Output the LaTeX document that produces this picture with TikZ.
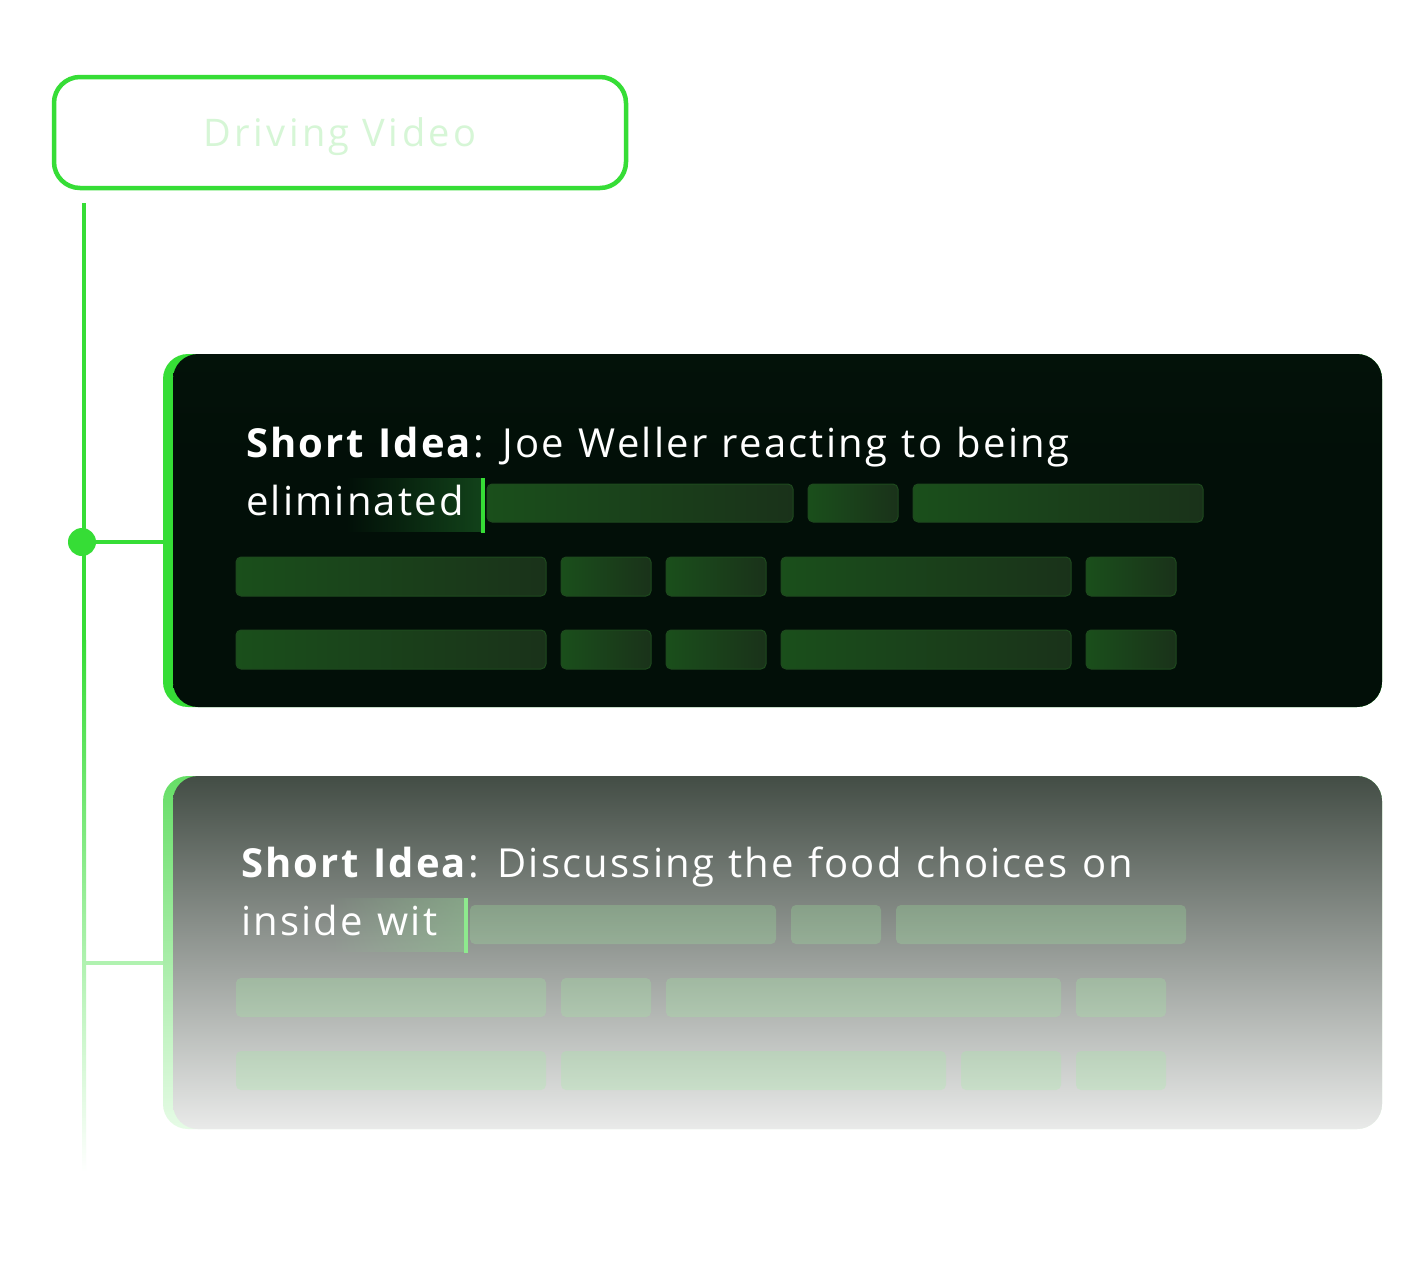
\documentclass[tikz,border=0pt]{standalone}
\usepackage{fontspec}
\setmainfont{Open Sans}
\newfontfamily\dvfont[LetterSpace=9]{Open Sans}
\newfontfamily\cardfont[LetterSpace=5.5, WordSpace=1.15]{Open Sans}
\usetikzlibrary{fadings}
\definecolor{lime}{HTML}{36DD36}
\definecolor{limefade}{HTML}{B0F2B0}
\definecolor{dvtext}{HTML}{D6F6D6}
\definecolor{cardAtop}{HTML}{05170B}
\definecolor{cardAmid}{HTML}{020F08}
\definecolor{cardAbot}{HTML}{1F2923}
\definecolor{cardBtop}{HTML}{434D45}
\definecolor{cardBbot}{HTML}{E9EAE9}
\definecolor{stripBtop}{HTML}{66DE66}
\definecolor{stripBbot}{HTML}{E6FBE6}
\definecolor{barAl}{HTML}{1A4F1B}
\definecolor{barAr}{HTML}{1A321A}
\definecolor{barAline}{HTML}{1E4A1E}
\definecolor{barB}{HTML}{A0F0A0}
\definecolor{curB}{HTML}{8EEA8E}
\definecolor{glowA}{HTML}{12421A}
\definecolor{glowB}{HTML}{8FC490}
\pgfdeclareverticalshading{cardAshade}{100bp}{color(0bp)=(cardAbot); color(22bp)=(cardAmid); color(60bp)=(cardAmid); color(100bp)=(cardAtop)}
\tikzfading[name=fadeleft, left color=transparent!100, right color=transparent!0]
\tikzset{
  conn/.style={line width=4pt},
  cardtext/.style={anchor=base west, inner sep=0, text=white, font=\cardfont\fontsize{40pt}{48pt}\selectfont},
  barA/.style={left color=barAl, right color=barAr, draw=barAline, line width=1pt, rounded corners=5pt},
  barBstyle/.style={fill=barB, fill opacity=0.25, rounded corners=5pt},
}
\begin{document}
\begin{tikzpicture}[x=1pt,y=-1pt]
\useasboundingbox (0,0) rectangle (1422,1270);
\fill[white] (0,0) rectangle (1422,1270);

% Driving video box
\node[draw=lime, line width=4.5pt, rounded corners=26pt, minimum width=572pt, minimum height=111pt,
      inner sep=0, text depth=0pt, text=dvtext, font=\dvfont\fontsize{38pt}{46pt}\selectfont] (dv) at (340,132.5) {Driving Video};

% Cards
\node[fill=lime, rounded corners=25pt, minimum width=1219pt, minimum height=353pt, inner sep=0] (c1) at (772.5,530.5) {};
\shade[shading=cardAshade, rounded corners=25pt] (173,354) rectangle (1382,707);

\node[top color=stripBtop, bottom color=stripBbot, rounded corners=25pt, minimum width=1219pt, minimum height=353pt, inner sep=0] (c2) at (772.5,952.5) {};
\shade[top color=cardBtop, bottom color=cardBbot, rounded corners=25pt] (173,776) rectangle (1382,1129);

% Timeline
\coordinate (vtop) at (84,203);
\coordinate (vmid) at (84,640);
\coordinate (vbot) at (84,1172);
\coordinate (dot) at (82,542);
\coordinate (j2) at (84,963);
\fill[lime] (82,203) rectangle (86,641);
\shade[top color=lime, bottom color=white] (82,640) rectangle (86,1172);
\draw[conn, lime] (dot) -- (dot -| c1.west);
\fill[lime] (dot) circle (14pt);
\draw[conn, limefade] (j2) -- (j2 -| c2.west);

% Card 1 content
\fill[glowA, path fading=fadeleft] (345,478) rectangle (481,532);
\node[cardtext] (t1a) at (246,457) {\textbf{Short Idea}: Joe Weller reacting to being};
\node[cardtext] (t1b) at (246,515) {eliminated};
\node[fill=lime, minimum width=4pt, minimum height=55pt, inner sep=0] (cur1) at (483,505.5) {};

\foreach \a/\b in {487/793, 808/898, 913/1203}
  \shade[barA] (\a,484) rectangle (\b,522);
\foreach \a/\b in {236/546, 561/651, 666/766, 781/1071, 1086/1176}{
  \shade[barA] (\a,557) rectangle (\b,596);
  \shade[barA] (\a,630) rectangle (\b,669);
}

% Card 2 content
\fill[glowB, opacity=0.5, path fading=fadeleft] (330,898) rectangle (464,952);
\node[cardtext] (t2a) at (241,877) {\textbf{Short Idea}: Discussing the food choices on};
\node[cardtext] (t2b) at (241,935) {inside wit};
\node[fill=curB, minimum width=4pt, minimum height=55pt, inner sep=0] (cur2) at (466,925.5) {};

\foreach \a/\b in {470/776, 791/881, 896/1186}
  \fill[barBstyle] (\a,905) rectangle (\b,944);
\foreach \a/\b in {236/546, 561/651, 666/1061, 1076/1166}
  \fill[barBstyle] (\a,978) rectangle (\b,1017);
\foreach \a/\b in {236/546, 561/946, 961/1061, 1076/1166}
  \fill[barBstyle] (\a,1051) rectangle (\b,1090);
\end{tikzpicture}
\end{document}
